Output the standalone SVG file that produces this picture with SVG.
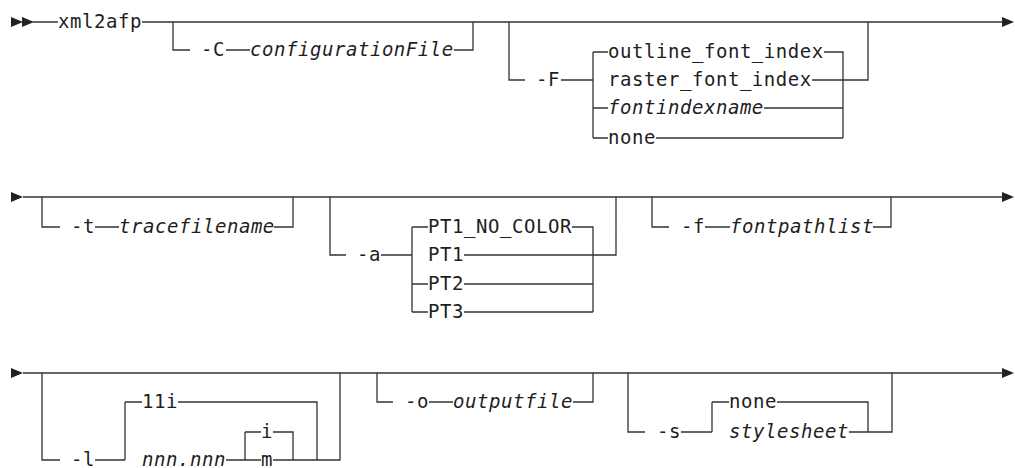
<svg xmlns="http://www.w3.org/2000/svg" width="1015" height="468" viewBox="0 0 1015 468">
<style>
.t{font-family:"DejaVu Sans Mono","Liberation Mono",monospace;font-size:19px;letter-spacing:0.55px;fill:#1e1e1e}
.i{font-style:italic}
.c path{fill:none;stroke:#333;stroke-width:1.3}
.c polygon{fill:#222}
</style>
<rect width="1015" height="468" fill="#fff"/>
<g class="c" id="connectors">
<polygon points="11,17 23,22 11,27"/><polygon points="22,17 34,22 22,27"/>
<polygon points="1002,17 1014,22 1002,27"/>
<path d="M33,22H58M142,22H1003"/>
<path d="M173,22V50H190M226,50H250M454,50H473V22"/>
<path d="M509,22V80H525M561,80H593M593,52V138M593,52H608M593,108H608M593,138H608M824,52H843V138M812,80H868V22M764,108H843M656,138H843"/>
<polygon points="11,192 23,197 11,202"/>
<polygon points="1002,192 1014,197 1002,202"/>
<path d="M23,197H1003"/>
<path d="M42,197V227H60M95,227H119M274,227H293V197"/>
<path d="M330,197V255H346M381,255H412M412,227V312M412,227H428M412,284H428M412,312H428M572,227H593V312M464,255H616V197M464,284H593M464,312H593"/>
<path d="M652,197V227H669M705,227H730M873,227H891V197"/>
<polygon points="11,368 23,373 11,378"/>
<polygon points="1002,368 1014,373 1002,378"/>
<path d="M23,373H1003"/>
<path d="M42,373V460H60M95,460H125M125,402V460M125,402H142M178,402H317V460M226,460H245M245,432V460M245,432H261M273,432H293V460M273,460H340V373M245,460H261"/>
<path d="M377,373V402H393M429,402H453M573,402H593V373"/>
<path d="M628,373V432H645M681,432H712M712,402V432M712,402H729M777,402H868V432M849,432H892V373"/>
</g>
<g id="n-xml2afp"><text class="t" x="58" y="28">xml2afp</text></g>
<g id="n-C"><text class="t" x="201" y="56">-C</text></g>
<g id="n-configurationFile"><text class="t i" x="250" y="56">configurationFile</text></g>
<g id="n-F"><text class="t" x="536" y="86">-F</text></g>
<g id="n-outline"><text class="t" x="608" y="58">outline_font_index</text></g>
<g id="n-raster"><text class="t" x="608" y="86">raster_font_index</text></g>
<g id="n-fontindexname"><text class="t i" x="608" y="114">fontindexname</text></g>
<g id="n-none1"><text class="t" x="608" y="144">none</text></g>
<g id="n-t"><text class="t" x="71" y="233">-t</text></g>
<g id="n-tracefilename"><text class="t i" x="119" y="233">tracefilename</text></g>
<g id="n-a"><text class="t" x="357" y="261">-a</text></g>
<g id="n-pt1nc"><text class="t" x="428" y="233">PT1_NO_COLOR</text></g>
<g id="n-pt1"><text class="t" x="428" y="261">PT1</text></g>
<g id="n-pt2"><text class="t" x="428" y="290">PT2</text></g>
<g id="n-pt3"><text class="t" x="428" y="318">PT3</text></g>
<g id="n-f"><text class="t" x="681" y="233">-f</text></g>
<g id="n-fontpathlist"><text class="t i" x="730" y="233">fontpathlist</text></g>
<g id="n-l"><text class="t" x="71" y="466">-l</text></g>
<g id="n-11i"><text class="t" x="142" y="408">11i</text></g>
<g id="n-nnn"><text class="t i" x="142" y="466">nnn.nnn</text></g>
<g id="n-i"><text class="t" x="261" y="438">i</text></g>
<g id="n-m"><text class="t" x="261" y="466">m</text></g>
<g id="n-o"><text class="t" x="405" y="408">-o</text></g>
<g id="n-outputfile"><text class="t i" x="453" y="408">outputfile</text></g>
<g id="n-s"><text class="t" x="657" y="438">-s</text></g>
<g id="n-none2"><text class="t" x="729" y="408">none</text></g>
<g id="n-stylesheet"><text class="t i" x="729" y="438">stylesheet</text></g>
</svg>
